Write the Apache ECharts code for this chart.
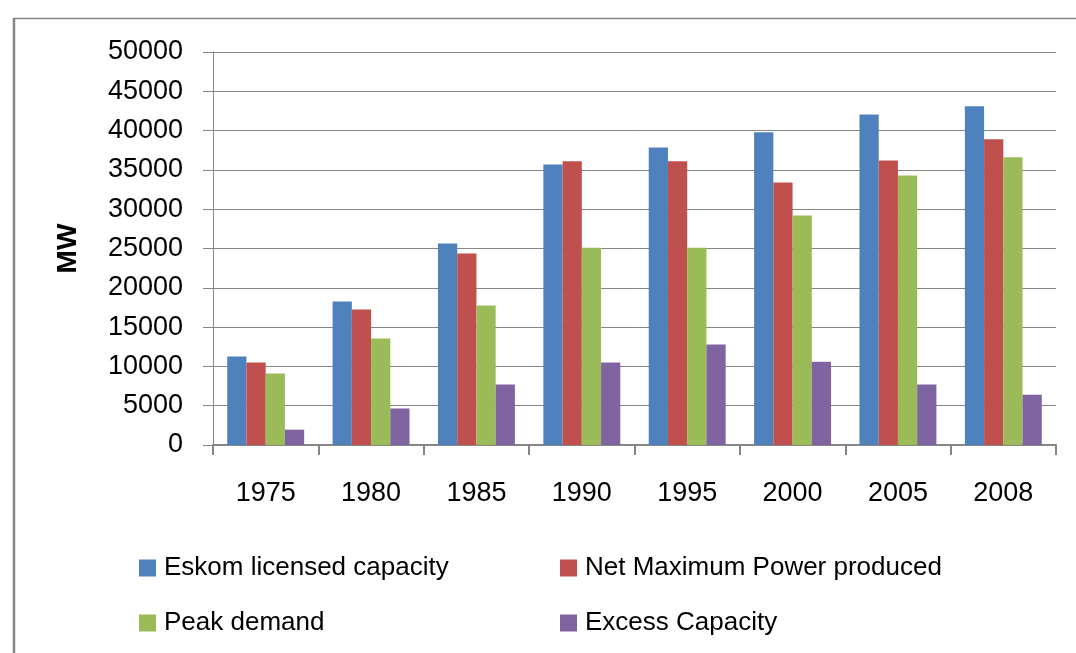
<!DOCTYPE html>
<html>
<head>
<meta charset="utf-8">
<script src="https://cdn.jsdelivr.net/npm/echarts@6/dist/echarts.min.js"></script>
<style>
  html, body { margin: 0; padding: 0; background: #ffffff; }
  #chart { width: 1076px; height: 653px; }
</style>
</head>
<body>
<div id="chart"></div>
<script>
// Eskom generating capacity vs. demand, MW
const years = ['1975', '1980', '1985', '1990', '1995', '2000', '2005', '2008'];
const licensedCapacity = [11250, 18250, 25650, 35700, 37850, 39800, 42050, 43100];
const netMaxPower     = [10500, 17250, 24350, 36100, 36100, 33400, 36200, 38900];
const peakDemand      = [9100, 13550, 17750, 25100, 25100, 29200, 34300, 36600];
const excessCapacity  = [1950, 4650, 7700, 10500, 12800, 10600, 7700, 6400];
const seriesNames = ['Eskom licensed capacity', 'Net Maximum Power produced', 'Peak demand', 'Excess Capacity'];
const seriesColors = ['#4F81BD', '#C0504D', '#9BBB59', '#8064A2'];

const axisGray = '#868686';
const font = 'Liberation Sans';

const chart = echarts.init(document.getElementById('chart'), null, { renderer: 'canvas' });

// one legend box per entry so the two columns line up
const legendSpots = [
  { left: 139, top: 555 },
  { left: 560, top: 555 },
  { left: 139, top: 610 },
  { left: 560, top: 610 }
];
const legends = seriesNames.map((name, i) => ({
  data: [name],
  left: legendSpots[i].left,
  top: legendSpots[i].top,
  orient: 'horizontal',
  icon: 'rect',
  itemWidth: 17,
  itemHeight: 17,
  padding: 0,
  selectedMode: false,
  textStyle: { fontFamily: font, fontSize: 26, color: '#000', padding: [0, 0, 0, 3] }
}));

const seriesData = [licensedCapacity, netMaxPower, peakDemand, excessCapacity];

chart.setOption({
  animation: false,
  backgroundColor: '#ffffff',
  color: seriesColors,
  legend: legends,
  grid: { left: 213, right: 20, top: 52, bottom: 208, containLabel: false },
  xAxis: {
    type: 'category',
    data: years,
    boundaryGap: true,
    axisLine: { show: true, lineStyle: { color: axisGray, width: 2 } },
    axisTick: { show: true, length: 10, lineStyle: { color: axisGray, width: 2 } },
    axisLabel: { fontFamily: font, fontSize: 27, color: '#000', margin: 35 },
    splitLine: { show: false }
  },
  yAxis: {
    type: 'value',
    min: 0,
    max: 50000,
    interval: 5000,
    name: 'MW',
    nameLocation: 'middle',
    nameGap: 131,
    nameRotate: 90,
    nameTextStyle: { fontFamily: font, fontSize: 28, fontWeight: 'bold', color: '#000' },
    axisLine: { show: true, lineStyle: { color: axisGray, width: 1 } },
    axisTick: { show: true, length: 10, lineStyle: { color: axisGray, width: 1 } },
    axisLabel: { fontFamily: font, fontSize: 27, color: '#000', margin: 30, formatter: (v) => String(v) },
    splitLine: { show: true, lineStyle: { color: axisGray, width: 1 } }
  },
  series: seriesNames.map((name, i) => ({
    name: name,
    type: 'bar',
    data: seriesData[i],
    barGap: '0%',
    barCategoryGap: '27%',
    itemStyle: { color: seriesColors[i] }
  })),
  graphic: [
    // outer chart frame: left and top edges
    { type: 'line', shape: { x1: 14, y1: 18, x2: 14, y2: 653 }, style: { stroke: axisGray, lineWidth: 2.5 }, silent: true },
    { type: 'line', shape: { x1: 13, y1: 18.5, x2: 1076, y2: 18.5 }, style: { stroke: axisGray, lineWidth: 1.5 }, silent: true }
  ]
});
</script>
</body>
</html>
